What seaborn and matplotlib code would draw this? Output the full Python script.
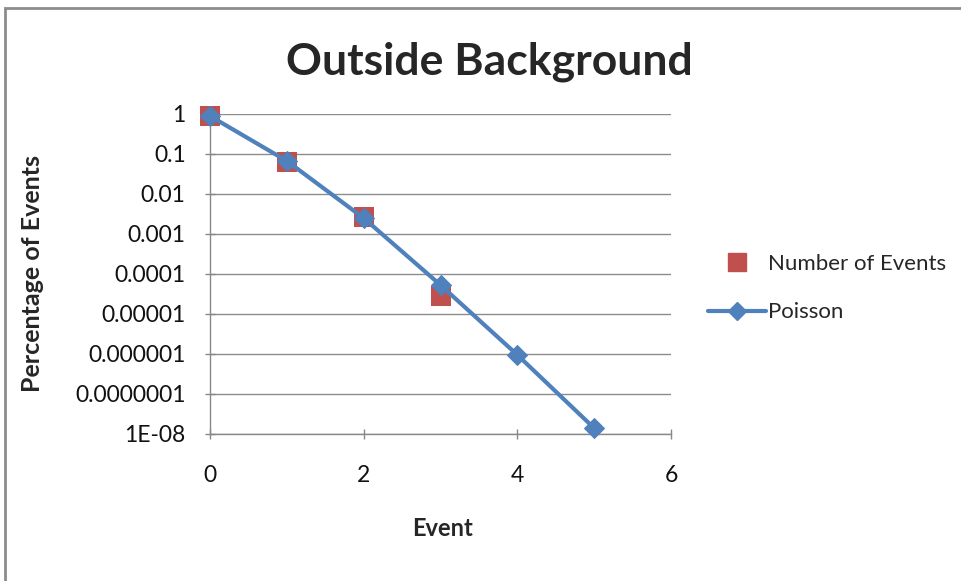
import numpy as np
import pandas as pd
import matplotlib
matplotlib.use('Agg')
import matplotlib.pyplot as plt
import seaborn as sns
from matplotlib.lines import Line2D
from matplotlib.patches import Rectangle

# 数据
events = [0, 1, 2, 3]
observed = [0.89, 0.063, 0.0026, 0.000028]
poisson_x = [0, 1, 2, 3, 4, 5]
poisson_y = [0.89, 0.067, 0.0025, 0.000053, 0.00000095, 0.000000014]

y_ticks = [1, 0.1, 0.01, 0.001, 0.0001, 0.00001, 0.000001, 0.0000001, 0.00000001]
y_tick_labels = ['1', '0.1', '0.01', '0.001', '0.0001', '0.00001', '0.000001', '0.0000001', '1E-08']
x_ticks = [0, 2, 4, 6]

red = '#C0504D'
blue = '#4F81BD'

sns.set_theme(style='white')
plt.rcParams['font.family'] = ['Lato', 'DejaVu Sans']

fig = plt.figure(figsize=(9.61, 5.81), dpi=100)
ax = fig.add_axes([210 / 961, 1 - 434 / 581, 461 / 961, 320 / 581])

df_obs = pd.DataFrame({'Event': events, 'Value': observed})
df_poi = pd.DataFrame({'Event': poisson_x, 'Value': poisson_y})

sns.scatterplot(data=df_obs, x='Event', y='Value', ax=ax, color=red, marker='s',
                s=210, edgecolor=red, linewidth=0, zorder=2, clip_on=False)
sns.lineplot(data=df_poi, x='Event', y='Value', ax=ax, color=blue, linewidth=3,
             marker='D', markersize=10, markeredgecolor=blue, zorder=3, clip_on=False)

ax.set_yscale('log')
ax.set_ylim(1e-8, 1)
ax.set_xlim(0, 6)
ax.set_yticks(y_ticks)
ax.set_yticklabels(y_tick_labels)
ax.minorticks_off()
ax.set_xticks(x_ticks)
ax.tick_params(axis='both', labelsize=16.5, colors='#111111', length=7, color='#888888',
               direction='inout', width=1)
ax.tick_params(axis='y', pad=14)
ax.tick_params(axis='x', pad=19)
ax.xaxis.set_tick_params(bottom=True)
ax.yaxis.set_tick_params(left=True)

ax.grid(axis='y', color='#8c8c8c', linewidth=1)
ax.grid(axis='x', visible=False)
for s in ['top', 'right']:
    ax.spines[s].set_visible(False)
for s in ['left', 'bottom']:
    ax.spines[s].set_color('#888888')
    ax.spines[s].set_linewidth(1)

ax.set_xlabel('')
ax.set_ylabel('')
fig.text(442 / 961, 1 - 528 / 581, 'Event', ha='center', va='center', fontsize=17, fontweight='bold')
fig.text(33 / 961, 1 - 274 / 581, 'Percentage of Events', ha='center', va='center', fontsize=18,
         fontweight='bold', rotation=90)
fig.text(489 / 961, 1 - 62 / 581, 'Outside Background', ha='center', va='center', fontsize=32,
         fontweight='bold')

handles = [
    Line2D([], [], color=red, marker='s', linestyle='none', markersize=13),
    Line2D([], [], color=blue, marker='D', linewidth=3, markersize=9),
]
fig.legend(handles, ['Number of Events', 'Poisson'], loc='center left',
           bbox_to_anchor=(688 / 961, 1 - 288 / 581), frameon=False, fontsize=16,
           handlelength=2.6, handletextpad=0.1, labelspacing=1.3)

fig.patches.append(Rectangle((5 / 961, -0.1), 1.2, 1 - 8 / 581 + 0.1, transform=fig.transFigure,
                             fill=False, edgecolor='#8c8c8c', linewidth=2))

fig.savefig('out.png', dpi=100)
